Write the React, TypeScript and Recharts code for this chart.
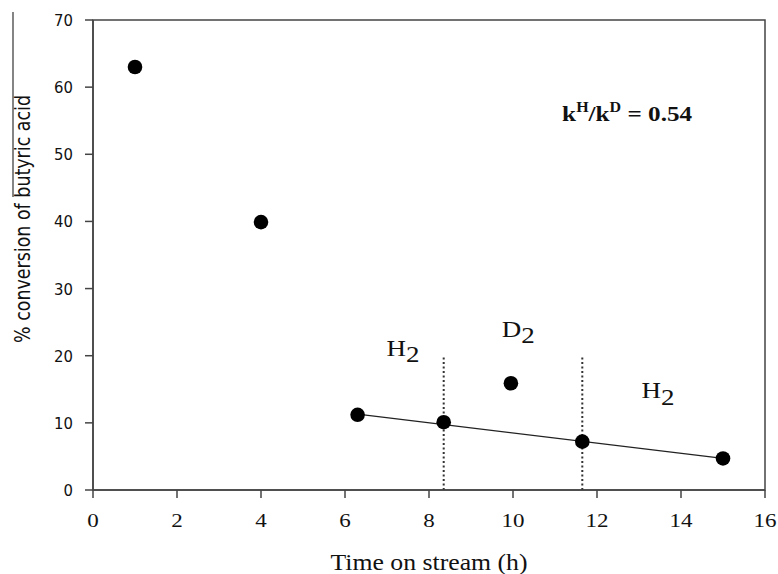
import React from "react";
import {
  ComposedChart,
  Scatter,
  XAxis,
  YAxis,
  ReferenceArea,
  ReferenceLine,
  ReferenceDot,
} from "recharts";

// ---- data ----
const timeOnStream = [1, 4, 6.3, 8.35, 9.95, 11.65, 15.0];
const conversion = [63, 39.9, 11.2, 10.1, 15.9, 7.2, 4.7];
const trendTimes = [6.3, 15.0];
const trendValues = [11.3, 4.7];
const dividerTimes = [8.35, 11.65];
const dividerTop = 20;
const xTicks = [0, 2, 4, 6, 8, 10, 12, 14, 16];
const yTicks = [0, 10, 20, 30, 40, 50, 60, 70];
const gasLabels = [
  { text: "H", sub: "2", x: 6.99, y: 19.96 },
  { text: "D", sub: "2", x: 9.73, y: 22.83 },
  { text: "H", sub: "2", x: 13.06, y: 13.7 },
];
const kieLabel = { x: 11.17, y: 55.0, value: "0.54" };

const points = timeOnStream.map((x, i) => ({ x, y: conversion[i] }));
const trend = trendTimes.map((x, i) => ({ x, y: trendValues[i] }));

const SERIF = "Liberation Serif, Times New Roman, serif";
const SANS = "DejaVu Sans Condensed, DejaVu Sans, Verdana, sans-serif";
const AXIS = "#444";

const XTick = (props: any) => {
  const { x, y, payload } = props;
  const s = String(payload.value);
  return (
    <text
      x={x}
      y={y}
      dy="0.71em"
      textAnchor="middle"
      style={{ fontFamily: SERIF }}
      fontSize={19}
      fill="#111"
      textLength={s.length * 11.5}
      lengthAdjust="spacingAndGlyphs"
    >
      {s}
    </text>
  );
};

const YTick = (props: any) => {
  const { x, y, payload } = props;
  const s = String(payload.value);
  return (
    <text
      x={x}
      y={y}
      dx={-10}
      dy="0.36em"
      textAnchor="end"
      style={{ fontFamily: SANS }}
      fontSize={16.5}
      fill="#111"
    >
      {s}
    </text>
  );
};

const XTitle = (props: any) => {
  const vb = props.viewBox;
  return (
    <text
      x={vb.x + vb.width / 2}
      y={vb.y + 80}
      textAnchor="middle"
      style={{ fontFamily: SERIF }}
      fontSize={24}
      fill="#111"
      textLength={197}
      lengthAdjust="spacingAndGlyphs"
    >
      Time on stream (h)
    </text>
  );
};

const YTitle = (props: any) => {
  const vb = props.viewBox;
  const cx = 30;
  const cy = vb.y + vb.height / 2 - 36;
  return (
    <g>
      <line x1={13} y1={12} x2={13} y2={197} stroke="#333" strokeWidth={1.2} />
      <text
        x={cx}
        y={cy}
        textAnchor="middle"
        transform={`rotate(-90, ${cx}, ${cy})`}
        style={{ fontFamily: SANS, fontSize: 22 }}
        fill="#111"
        textLength={248}
        lengthAdjust="spacingAndGlyphs"
      >
        % conversion of butyric acid
      </text>
    </g>
  );
};

const Dot = (props: any) => <circle cx={props.cx} cy={props.cy} r={7.3} fill="#000" />;
const Empty = () => <g />;

export default function App() {
  return (
    <div style={{ position: "absolute", left: 0, top: 0, background: "#fff" }}>
      <ComposedChart
        width={778}
        height={574}
        margin={{ top: 20, right: 13, bottom: 0, left: 0 }}
      >
        <XAxis
          type="number"
          dataKey="x"
          domain={[0, 16]}
          ticks={xTicks}
          interval={0}
          allowDataOverflow
          height={84}
          tickSize={8}
          tickMargin={16}
          axisLine={{ stroke: AXIS, strokeWidth: 1.5 }}
          tickLine={{ stroke: AXIS, strokeWidth: 1.5 }}
          tick={<XTick />}
          label={{ content: XTitle }}
        />
        <YAxis
          type="number"
          dataKey="y"
          domain={[0, 70]}
          ticks={yTicks}
          interval={0}
          allowDataOverflow
          width={93}
          tickSize={8}
          tickMargin={2}
          axisLine={{ stroke: AXIS, strokeWidth: 1.5 }}
          tickLine={{ stroke: AXIS, strokeWidth: 1.5 }}
          tick={<YTick />}
          label={{ content: YTitle }}
        />
        <ReferenceArea
          x1={0}
          x2={16}
          y1={0}
          y2={70}
          fill="none"
          stroke={AXIS}
          strokeWidth={1.5}
          ifOverflow="visible"
        />
        {dividerTimes.map((t, i) => (
          <ReferenceLine
            key={i}
            segment={[
              { x: t, y: 0 },
              { x: t, y: dividerTop },
            ]}
            stroke="#333"
            strokeWidth={2}
            strokeDasharray="2 2.5"
          />
        ))}
        <Scatter
          data={trend}
          line={{ stroke: "#222", strokeWidth: 1.3 }}
          shape={Empty}
          isAnimationActive={false}
        />
        <Scatter data={points} shape={Dot} isAnimationActive={false} />
        {gasLabels.map((g, i) => (
          <ReferenceDot
            key={"g" + i}
            x={g.x}
            y={g.y}
            r={0}
            shape={(p: any) => (
              <text
                x={p.cx}
                y={p.cy}
                style={{ fontFamily: SERIF }}
                fontSize={23}
                fill="#111"
                textLength={33}
                lengthAdjust="spacingAndGlyphs"
              >
                {g.text}
                <tspan dy={6.5}>{g.sub}</tspan>
              </text>
            )}
          />
        ))}
        <ReferenceDot
          x={kieLabel.x}
          y={kieLabel.y}
          r={0}
          shape={(p: any) => (
            <text
              x={p.cx}
              y={p.cy}
              style={{ fontFamily: SERIF }}
              fontSize={22}
              fontWeight="bold"
              fill="#111"
              textLength={130}
              lengthAdjust="spacingAndGlyphs"
            >
              k
              <tspan dy={-9} fontSize={14}>H</tspan>
              <tspan dy={9}>/k</tspan>
              <tspan dy={-9} fontSize={14}>D</tspan>
              <tspan dy={9}>{" = " + kieLabel.value}</tspan>
            </text>
          )}
        />
      </ComposedChart>
    </div>
  );
}
